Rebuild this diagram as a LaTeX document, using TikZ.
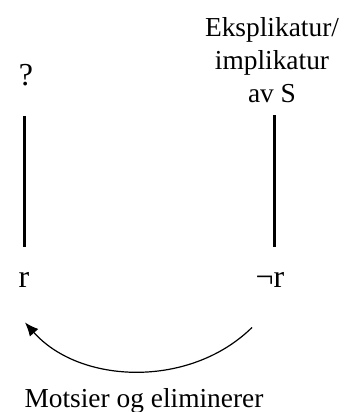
\documentclass[tikz,border=0pt]{standalone}
\usepackage{fontspec}
\setmainfont{Liberation Serif}
\usetikzlibrary{arrows.meta, calc}

\begin{document}
\begin{tikzpicture}[x=0.5pt, y=-0.5pt, >={Latex[length=2.4mm, width=2mm]},
    lbl/.style={inner sep=0pt, font=\fontsize{13.7}{16.5}\selectfont},
    sym/.style={inner sep=0pt, anchor=base, font=\fontsize{16}{19}\selectfont},
    stem/.style={line width=1.3pt},
    curve/.style={line width=0.6pt, ->}]
  \useasboundingbox (0,0) rectangle (358,412);
  \node[sym] (q) at (26,85) {?};
  \node[lbl, align=center] (eks) at (272,60) {Eksplikatur/\\implikatur\\av S};
  \node[sym] (r) at (24,287) {r};
  \node[sym] (nr) at (270,287) {¬r};
  \node[lbl, anchor=base] (lab) at (144,407) {Motsier og eliminerer};
  % de to loddrette strekene
  \draw[stem] ($(q.south)+(-1.5,30)$) -- ($(r.north)+(0.5,-25)$);
  \draw[stem] ($(nr.north east)+(-10,-25)$) -- ($(nr.north east)+(-10,-157)$);
  % buen med pil
  \draw[curve] ($(nr)+(-18,48)$) .. controls +(-62,61) and +(55,62) .. ($(r)+(1,43)$);
\end{tikzpicture}
\end{document}
